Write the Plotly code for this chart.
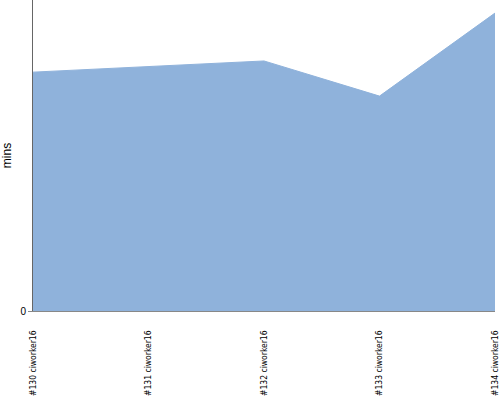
import plotly.graph_objects as go

categories = ["#130 ciworker16", "#131 ciworker16", "#132 ciworker16", "#133 ciworker16", "#134 ciworker16"]
mins = [76.8, 78.6, 80.4, 69.1, 95.8]

x_idx = list(range(len(categories)))

fig = go.Figure()
fig.add_trace(go.Scatter(
    x=x_idx, y=mins, mode="lines", fill="tozeroy",
    line=dict(color="#8fb2db", width=1),
    fillcolor="#8fb2db", hoverinfo="skip", showlegend=False,
))

fig.update_layout(
    width=500, height=400,
    margin=dict(l=33, r=5, t=0, b=89, autoexpand=False),
    paper_bgcolor="white", plot_bgcolor="white",
    font=dict(family="Liberation Sans, Arial, sans-serif", color="#000"),
)
fig.update_xaxes(
    range=[0, len(categories) - 1], automargin=False,
    tickvals=x_idx, ticktext=categories, tickangle=-90,
    tickfont=dict(size=8.5, family="Liberation Sans Narrow, DejaVu Sans Condensed, Arial Narrow, sans-serif"),
    showgrid=False, zeroline=False,
    showline=True, linecolor="#888", linewidth=1,
    ticks="", ticklabelstandoff=15,
)
fig.update_yaxes(
    range=[0, 100], tickvals=[0], ticktext=["0"], automargin=False,
    tickfont=dict(size=10), showgrid=False, zeroline=False,
    showline=True, linecolor="#666", linewidth=1,
    ticks="outside", ticklen=4, tickcolor="#888",
    title=dict(text="mins", font=dict(size=12), standoff=8),
)

fig.write_html("out.html", config={"displayModeBar": False},
               post_script="document.body.style.margin='0';document.body.style.padding='0';")
